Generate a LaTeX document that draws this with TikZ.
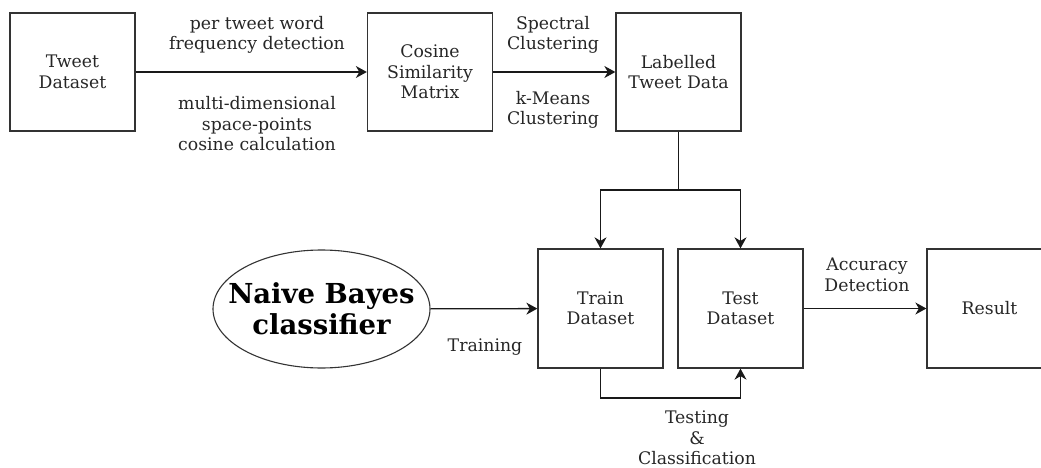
\documentclass[tikz,border=0pt]{standalone}
\usepackage{fontspec}
\setmainfont{DejaVu Serif}
\usetikzlibrary{arrows.meta,shapes.geometric}
\begin{document}
\begin{tikzpicture}[x=1pt,y=-1pt,
  box/.style={draw=black!80,line width=1.3pt,minimum width=125pt,minimum height=118pt,inner sep=0pt,align=center,font=\fontsize{17.3}{20.5}\selectfont,text=black!85},
  lbl/.style={align=center,font=\fontsize{17.3}{20.5}\selectfont,text=black!85,inner sep=0pt},
  conn/.style={draw=black!90,line width=1.3pt,-{Stealth[length=11pt,width=12pt,inset=3.5pt]}},
  plain/.style={draw=black!90,line width=1.3pt}]
\useasboundingbox (0,0) rectangle (1041,468);
\node[box] (tweet) at (72.5,72) {Tweet\\Dataset};
\node[box] (cos) at (430,72) {Cosine\\Similarity\\Matrix};
\node[box] (lab) at (678.5,72) {Labelled\\Tweet Data};
\node[box,minimum height=119pt] (train) at (600.5,308.5) {Train\\Dataset};
\node[box,minimum height=119pt] (test) at (740.5,308.5) {Test\\Dataset};
\node[box,minimum height=119pt] (result) at (989.5,308.5) {Result};
\node[ellipse,draw=black!80,line width=1.1pt,minimum width=217pt,minimum height=118pt,inner sep=0pt,font=\fontsize{27.5}{32}\selectfont\bfseries,text=black] (nb) at (321.5,309) {\makebox[0pt][c]{\raisebox{-10pt}[0pt][0pt]{\begin{tabular}{@{}c@{}}Naive Bayes\\[-1pt]classifier\end{tabular}}}};

\draw[conn] (tweet) -- (cos);
\draw[conn] (cos) -- (lab);
\coordinate (br) at (678.5,190);
\draw[plain] (lab.south) -- (br);
\draw[conn] (br) -| (train.north);
\draw[conn] (br) -| (test.north);
\draw[conn] (nb) -- (train);
\draw[conn] (test) -- (result);
\coordinate (tb) at (600.5,398);
\draw[conn] (train.south) -- (tb) -| (test.south);

\node[lbl] (l1) at (257,35) {per tweet word\\frequency detection};
\node[lbl] (l2) at (257,124) {multi-dimensional\\space-points\\cosine calculation};
\node[lbl] (l3) at (553,35) {Spectral\\Clustering};
\node[lbl] (l4) at (553,110) {k-Means\\Clustering};
\node[lbl] (l5) at (485,347) {Training};
\node[lbl] (l6) at (867,275) {Accuracy\\Detection};
\node[lbl] (l7) at (697,438) {Testing\\\&\\Classification};
\end{tikzpicture}
\end{document}
